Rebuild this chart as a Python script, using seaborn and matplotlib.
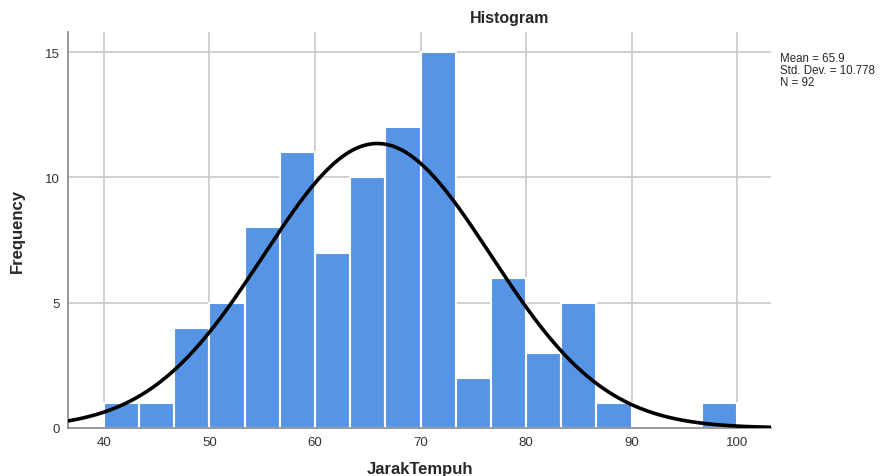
import numpy as np
import pandas as pd
import matplotlib
matplotlib.use("Agg")
import matplotlib.pyplot as plt
import seaborn as sns

# Data
bin_start = 40.0
bin_width = 10.0 / 3.0
counts = [1, 1, 4, 5, 8, 11, 7, 10, 12, 15, 2, 6, 3, 5, 1, 0, 0, 1]
mean_val = 65.9
std_val = 10.778
n_val = 92
x_ticks = [40, 50, 60, 70, 80, 90, 100]
y_ticks = [0, 5, 10, 15]

edges = [float(v) for v in bin_start + bin_width * np.arange(len(counts) + 1)]
centers = [(edges[i] + edges[i + 1]) / 2 for i in range(len(counts))]
df = pd.DataFrame({"JarakTempuh": centers, "count": counts})

sns.set_theme(style="white")
plt.rcParams['font.family'] = ['Liberation Sans', 'DejaVu Sans']

fig = plt.figure(figsize=(8.96, 4.77), dpi=100)
ax = fig.add_axes([68 / 896, 1 - 429 / 477, (771 - 68) / 896, (429 - 33) / 477])

xmin, xmax = 36.6, 103.2

for t in x_ticks:
    ax.axvline(t, color="#c8c8c8", lw=1.2, zorder=0)
for t in y_ticks[1:]:
    ax.axhline(t, color="#c8c8c8", lw=1.2, zorder=0)

sns.histplot(data=df, x="JarakTempuh", weights="count", bins=edges, ax=ax,
             color="#5695e6", alpha=1.0, edgecolor="white", linewidth=1.5, zorder=2)

xs = np.linspace(xmin, xmax, 400)
ys = n_val * bin_width * np.exp(-0.5 * ((xs - mean_val) / std_val) ** 2) / (std_val * np.sqrt(2 * np.pi))
sns.lineplot(x=xs, y=ys, ax=ax, color="black", lw=2.6, zorder=3)

ax.set_xlim(xmin, xmax)
ax.set_ylim(0, 15.8)
ax.set_xticks(x_ticks)
ax.set_yticks(y_ticks)
ax.tick_params(axis="both", labelsize=9.5, colors="#333333", length=0, pad=6)
for s in ["top", "right"]:
    ax.spines[s].set_visible(False)
for s in ["left", "bottom"]:
    ax.spines[s].set_color("#888888")
    ax.spines[s].set_linewidth(1.2)

ax.set_xlabel("JarakTempuh", fontsize=12, fontweight="bold", labelpad=9)
ax.set_ylabel("Frequency", fontsize=12, fontweight="bold", labelpad=14)

fig.text(510 / 896, 1 - 18 / 477, "Histogram", ha="center", va="center",
         fontsize=11.5, fontweight="bold")
fig.text(780 / 896, 1 - 53 / 477,
         "Mean = %.1f\nStd. Dev. = %.3f\nN = %d" % (mean_val, std_val, n_val),
         ha="left", va="top", fontsize=8.3, linespacing=1.0)

fig.savefig("out.png", dpi=100)
